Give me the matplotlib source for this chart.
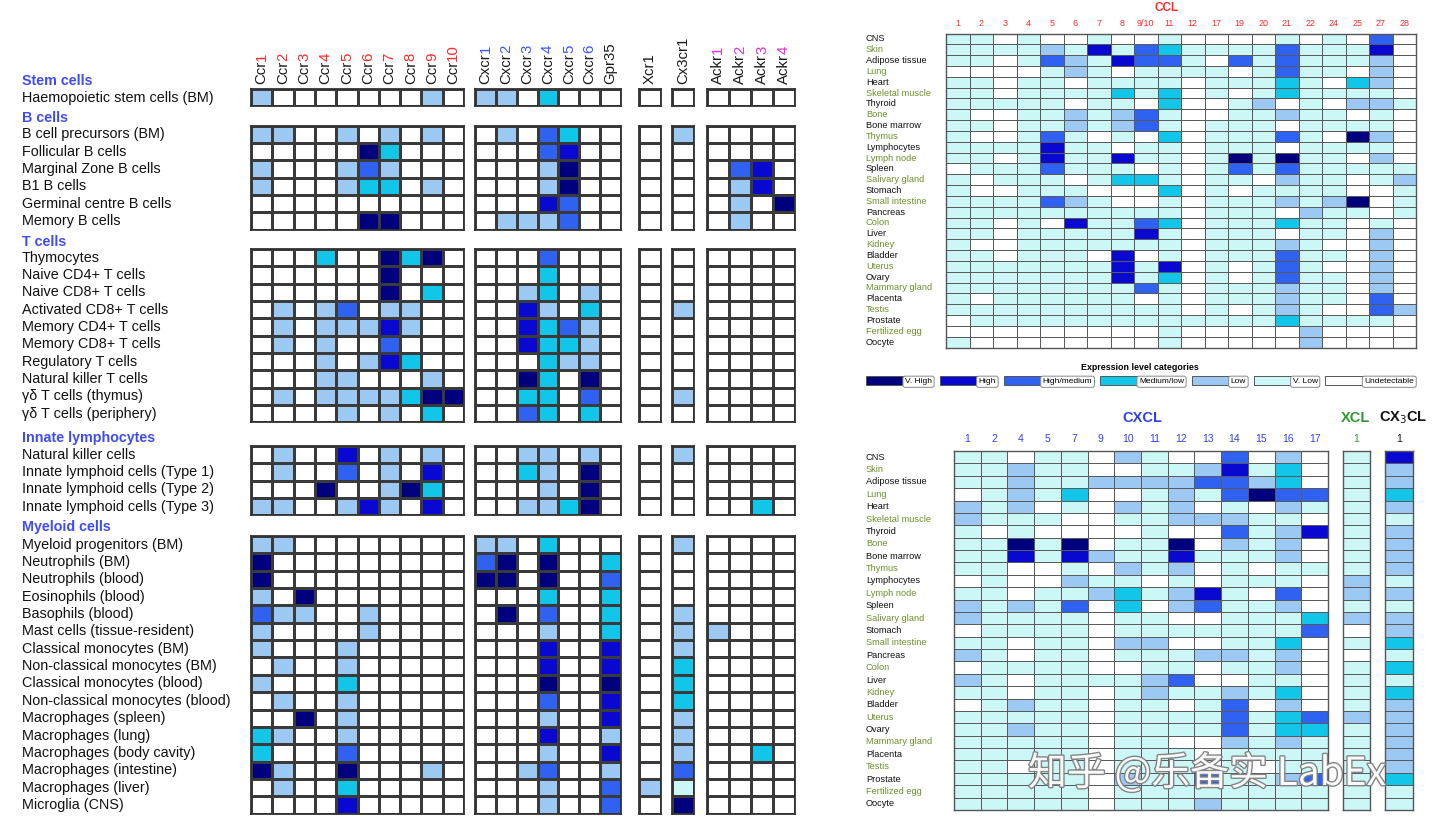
import numpy as np
import matplotlib
matplotlib.use('Agg')
import matplotlib.pyplot as plt
from matplotlib.colors import ListedColormap, BoundaryNorm
from matplotlib.patches import Patch
import matplotlib.transforms as mtransforms
import matplotlib.patheffects as pe

plt.rcParams['font.family'] = ['Liberation Sans', 'DejaVu Sans']

# 0 undetectable ... 6 very high
level_names = ['V. High', 'High', 'High/medium', 'Medium/low', 'Low', 'V. Low', 'Undetectable']
level_colors = ['#ffffff', '#ccf7f7', '#9cc8f4', '#12c6ea', '#3062f2', '#0808d0', '#00007e']
cmap = ListedColormap(level_colors)
norm = BoundaryNorm(np.arange(-0.5, 7.5, 1), 7)

# ---------------- receptor panel (left) ----------------
receptor_groups = [
    ['Ccr1', 'Ccr2', 'Ccr3', 'Ccr4', 'Ccr5', 'Ccr6', 'Ccr7', 'Ccr8', 'Ccr9', 'Ccr10'],
    ['Cxcr1', 'Cxcr2', 'Cxcr3', 'Cxcr4', 'Cxcr5', 'Cxcr6', 'Gpr35'],
    ['Xcr1'],
    ['Cx3cr1'],
    ['Ackr1', 'Ackr2', 'Ackr3', 'Ackr4'],
]
num_colors = {'Ccr': '#ff2a2a', 'Cxcr': '#3b55ff', 'Ackr': '#e030e0'}

stem_labels = ['Haemopoietic stem cells (BM)']
stem_vals = ['2000000020 2203000 0 0 0000']

bcell_labels = ['B cell precursors (BM)', 'Follicular B cells', 'Marginal Zone B cells',
                'B1 B cells', 'Germinal centre B cells', 'Memory B cells']
bcell_vals = [
    '2200202020 0204300 0 2 0000',
    '0000063000 0004500 0 0 0000',
    '2000242000 0002600 0 0 0450',
    '2000233020 0002600 0 0 0250',
    '0000000000 0005400 0 0 0206',
    '0000066000 0222400 0 0 0200',
]

tcell_labels = ['Thymocytes', 'Naive CD4+ T cells', 'Naive CD8+ T cells', 'Activated CD8+ T cells',
                'Memory CD4+ T cells', 'Memory CD8+ T cells', 'Regulatory T cells',
                'Natural killer T cells', 'γδ T cells (thymus)', 'γδ T cells (periphery)']
tcell_vals = [
    '0003006360 0004000 0 0 0000',
    '0000006000 0003000 0 0 0000',
    '0000006030 0023020 0 0 0000',
    '0202402200 0052030 0 2 0000',
    '0202225200 0053420 0 0 0000',
    '0202004000 0053320 0 0 0000',
    '0002025300 0003220 0 0 0000',
    '0002200020 0063060 0 0 0000',
    '0202222366 0033040 0 2 0000',
    '0000202030 0043030 0 0 0000',
]

innate_labels = ['Natural killer cells', 'Innate lymphoid cells (Type 1)',
                 'Innate lymphoid cells (Type 2)', 'Innate lymphoid cells (Type 3)']
innate_vals = [
    '0200502020 0022020 0 2 0000',
    '0200402050 0032060 0 0 0000',
    '0006002630 0002060 0 0 0000',
    '2200252050 0022360 0 0 0030',
]

myeloid_labels = ['Myeloid progenitors (BM)', 'Neutrophils (BM)', 'Neutrophils (blood)',
                  'Eosinophils (blood)', 'Basophils (blood)', 'Mast cells (tissue-resident)',
                  'Classical monocytes (BM)', 'Non-classical monocytes (BM)',
                  'Classical monocytes (blood)', 'Non-classical monocytes (blood)',
                  'Macrophages (spleen)', 'Macrophages (lung)', 'Macrophages (body cavity)',
                  'Macrophages (intestine)', 'Macrophages (liver)', 'Microglia (CNS)']
myeloid_vals = [
    '2200000000 2203000 0 2 0000',
    '6000000000 4606003 0 0 0000',
    '6000000000 6606004 0 0 0000',
    '2060000000 0003003 0 0 0000',
    '4220020000 0604003 0 2 0000',
    '2000020000 0002003 0 2 2000',
    '2000200000 0005005 0 2 0000',
    '0200200000 0005005 0 3 0000',
    '2000300000 0006006 0 3 0000',
    '0200200000 0004005 0 3 0000',
    '0060200000 0002005 0 2 0000',
    '3200200000 0005002 0 2 0000',
    '3000400000 0002005 0 2 0030',
    '6200600020 0024002 0 4 0000',
    '0200300000 0002004 2 1 0000',
    '0000500000 0002004 0 6 0000',
]

cell_sections = [
    ('Stem cells', stem_labels, stem_vals),
    ('B cells', bcell_labels, bcell_vals),
    ('T cells', tcell_labels, tcell_vals),
    ('Innate lymphocytes', innate_labels, innate_vals),
    ('Myeloid cells', myeloid_labels, myeloid_vals),
]

# ---------------- tissue panels (right) ----------------
tissues = ['CNS', 'Skin', 'Adipose tissue', 'Lung', 'Heart', 'Skeletal muscle', 'Thyroid', 'Bone',
           'Bone marrow', 'Thymus', 'Lymphocytes', 'Lymph node', 'Spleen', 'Salivary gland',
           'Stomach', 'Small intestine', 'Pancreas', 'Colon', 'Liver', 'Kidney', 'Bladder',
           'Uterus', 'Ovary', 'Mammary gland', 'Placenta', 'Testis', 'Prostate',
           'Fertilized egg', 'Oocyte']

ccl_cols = ['1', '2', '3', '4', '5', '6', '7', '8', '9/10', '11', '12', '17', '19', '20',
            '21', '22', '24', '25', '27', '28']
ccl_vals = [
    '11010010010000101040',
    '11112151431111411150',
    '11014215441041411120',
    '00001210111101411020',
    '11011011110111310320',
    '11011113130101311110',
    '11111011030012010221',
    '10011212410011211010',
    '11011212410111011110',
    '10014101030111410620',
    '11115110110111011110',
    '11015115110161611020',
    '01114111010141411111',
    '10111013310110211012',
    '10011100030101111001',
    '11114210010111212601',
    '11111111110111021101',
    '11010511430111311010',
    '11011111510111011020',
    '10011111110111210020',
    '11011105010111411020',
    '11111115150101410020',
    '11111115130101411020',
    '11111111410111211020',
    '10111111010111211040',
    '11111111110101210042',
    '01111111111111311110',
    '00000000010000020000',
    '10000000010000020000',
]

cxcl_cols = ['1', '2', '4', '5', '7', '9', '10', '11', '12', '13', '14', '15', '16', '17']
cxcl_vals = [
    '11011021004020',
    '11211001125130',
    '11211222244230',
    '01213001214644',
    '21201021201021',
    '21110011222110',
    '10100001004125',
    '11616011602120',
    '11515211511120',
    '11001021201011',
    '01002110101110',
    '11011231251040',
    '21214030241120',
    '21111011001113',
    '01111011111114',
    '11011022001130',
    '21011011122120',
    '01111001101120',
    '21011112400110',
    '11011012112130',
    '01211011014020',
    '11111011114134',
    '11211011114133',
    '11111011002121',
    '11111011101111',
    '11011011101011',
    '11111021141124',
    '11111011111111',
    '11111011121111',
]
xcl_vals = [1, 1, 1, 1, 1, 1, 1, 1, 1, 1, 2, 2, 1, 2, 0, 1, 0, 1, 1, 1, 1, 2, 1, 1, 1, 1, 1, 1, 1]
cx3cl_vals = [5, 2, 2, 3, 2, 1, 2, 2, 2, 2, 1, 2, 1, 2, 2, 3, 1, 3, 1, 3, 2, 2, 2, 2, 2, 2, 3, 1, 1]

# ---------------- drawing ----------------
W, H = 1440, 834
fig = plt.figure(figsize=(W / 100, H / 100), dpi=100)
fig.patch.set_facecolor('white')


def px_axes(x0, y0, x1, y1):
    return fig.add_axes([x0 / W, 1 - y1 / H, (x1 - x0) / W, (y1 - y0) / H])


def heat(ax, data, ec='#3a3a3a', lw=0.9, frame=1.3, frame_c='#333333'):
    data = np.atleast_2d(np.array(data))
    ax.pcolormesh(data, cmap=cmap, norm=norm, edgecolors=ec, linewidth=lw)
    ax.set_xlim(0, data.shape[1])
    ax.set_ylim(data.shape[0], 0)
    ax.set_xticks([])
    ax.set_yticks([])
    for s in ax.spines.values():
        s.set_linewidth(frame)
        s.set_color(frame_c)


# left panel geometry (pixels)
col_spans = [(251, 464), (475, 621), (639, 661), (672, 694), (707, 795)]
row_h = 17.35
section_tops = [89, 125.5, 249, 446, 536]
header_y = [81, 118, 242, 438, 527]
group_sizes = [len(g) for g in receptor_groups]

for si, (title, labels, vals) in enumerate(cell_sections):
    rows = [v.replace(' ', '') for v in vals]
    mat = np.array([[int(c) for c in r] for r in rows])
    top = section_tops[si]
    bot = top + row_h * len(rows)
    fig.text(22 / W, 1 - header_y[si] / H, title, color='#3f4cf5', weight='bold',
             fontsize=10.3, va='center', ha='left')
    start = 0
    first_ax = None
    for gi, n in enumerate(group_sizes):
        x0, x1 = col_spans[gi]
        ax = px_axes(x0, top, x1, bot)
        heat(ax, mat[:, start:start + n])
        if gi == 0:
            first_ax = ax
        if si == 0:
            tr = mtransforms.blended_transform_factory(ax.transData, fig.transFigure)
            for j, name in enumerate(receptor_groups[gi]):
                base = name.rstrip('0123456789')
                num = name[len(base):]
                if base in num_colors:
                    t = ax.text(j + 0.5, 1 - 84 / H, base, rotation=90, ha='center', va='bottom',
                                fontsize=10.8, transform=tr, color='#1a1a1a')
                    ax.annotate(num, xy=(0.5, 1.0), xycoords=t, rotation=90, ha='center',
                                va='bottom', fontsize=10.8, color=num_colors[base],
                                annotation_clip=False)
                else:
                    ax.text(j + 0.5, 1 - 84 / H, name, rotation=90, ha='center', va='bottom',
                            fontsize=10.8, transform=tr, color='#1a1a1a')
        start += n
    tr = mtransforms.blended_transform_factory(fig.transFigure, first_ax.transData)
    for i, lab in enumerate(labels):
        first_ax.text(22 / W, i + 0.5, lab, transform=tr, ha='left', va='center',
                      fontsize=10.4, color='#111111')

label_cols = ['#111111', '#6f8f2a']

# CCL panel
ax_ccl = px_axes(946, 33.5, 1416, 347.5)
heat(ax_ccl, [[int(c) for c in r] for r in ccl_vals], ec='#5a5a5a', lw=0.7, frame=1.0,
     frame_c='#555555')
ax_ccl.xaxis.set_ticks_position('top')
ax_ccl.set_xticks(np.arange(len(ccl_cols)) + 0.5)
ax_ccl.set_xticklabels(ccl_cols, fontsize=6.5, color='#ff2a2a')
ax_ccl.tick_params(axis='x', length=0, pad=4)
tr = mtransforms.blended_transform_factory(fig.transFigure, ax_ccl.transData)
for i, lab in enumerate(tissues):
    ax_ccl.text(866 / W, i + 0.5, lab, transform=tr, ha='left', va='center', fontsize=6.7,
                color=label_cols[i % 2])
fig.text(1167 / W, 1 - 8 / H, 'CCL', color='#ff2a2a', weight='bold', fontsize=8.5,
         ha='center', va='center')

# legend
handles = [Patch(facecolor=level_colors[6 - k], edgecolor='#555555', linewidth=0.7)
           for k in range(7)]
leg = fig.legend(handles, level_names, loc='center', bbox_to_anchor=(1140 / W, 1 - 374 / H),
                 ncol=7, frameon=False, fontsize=6.0, handlelength=4.6, handleheight=1.3,
                 handletextpad=0.1, columnspacing=0.9, title='Expression level categories',
                 title_fontsize=6.4, borderaxespad=0)
for t in leg.get_texts():
    t.set_bbox(dict(boxstyle='round,pad=0.25', fc='white', ec='#888888', lw=0.7))
leg.get_title().set_weight('bold')

# CXCL panel
ax_cx = px_axes(954, 451, 1328, 810)
heat(ax_cx, [[int(c) for c in r] for r in cxcl_vals], ec='#5a5a5a', lw=0.7, frame=1.0,
     frame_c='#555555')
ax_cx.xaxis.set_ticks_position('top')
ax_cx.set_xticks(np.arange(len(cxcl_cols)) + 0.5)
ax_cx.set_xticklabels(cxcl_cols, fontsize=7.5, color='#3040ee')
ax_cx.tick_params(axis='x', length=0, pad=5)
tr = mtransforms.blended_transform_factory(fig.transFigure, ax_cx.transData)
for i, lab in enumerate(tissues):
    ax_cx.text(866 / W, i + 0.5, lab, transform=tr, ha='left', va='center', fontsize=6.7,
               color=label_cols[i % 2])
fig.text(1142 / W, 1 - 418 / H, 'CXCL', color='#3040ee', weight='bold', fontsize=10.5,
         ha='center', va='center')

ax_x = px_axes(1343, 451, 1370, 810)
heat(ax_x, np.array(xcl_vals)[:, None], ec='#5a5a5a', lw=0.7, frame=1.0, frame_c='#555555')
ax_x.xaxis.set_ticks_position('top')
ax_x.set_xticks([0.5])
ax_x.set_xticklabels(['1'], fontsize=7.5, color='#2e9a2e')
ax_x.tick_params(axis='x', length=0, pad=5)
fig.text(1356 / W, 1 - 418 / H, 'XCL', color='#2e9a2e', weight='bold', fontsize=10.5,
         ha='center', va='center')

ax_c3 = px_axes(1385, 451, 1413, 810)
heat(ax_c3, np.array(cx3cl_vals)[:, None], ec='#5a5a5a', lw=0.7, frame=1.0, frame_c='#555555')
ax_c3.xaxis.set_ticks_position('top')
ax_c3.set_xticks([0.5])
ax_c3.set_xticklabels(['1'], fontsize=7.5, color='#111111')
ax_c3.tick_params(axis='x', length=0, pad=5)
fig.text(1403 / W, 1 - 418 / H, 'CX$_3$CL', color='#111111', weight='bold', fontsize=10.5,
         ha='center', va='center')

# watermark
fig.text(1207 / W, 1 - 774 / H, '知乎 @乐备实 LabEx', fontsize=28, color='white',
         family=['Noto Sans CJK SC', 'DejaVu Sans'], ha='center', va='center', alpha=0.95,
         path_effects=[pe.withStroke(linewidth=2.0, foreground='#808080')])

fig.savefig('out.png', dpi=100, facecolor='white')
